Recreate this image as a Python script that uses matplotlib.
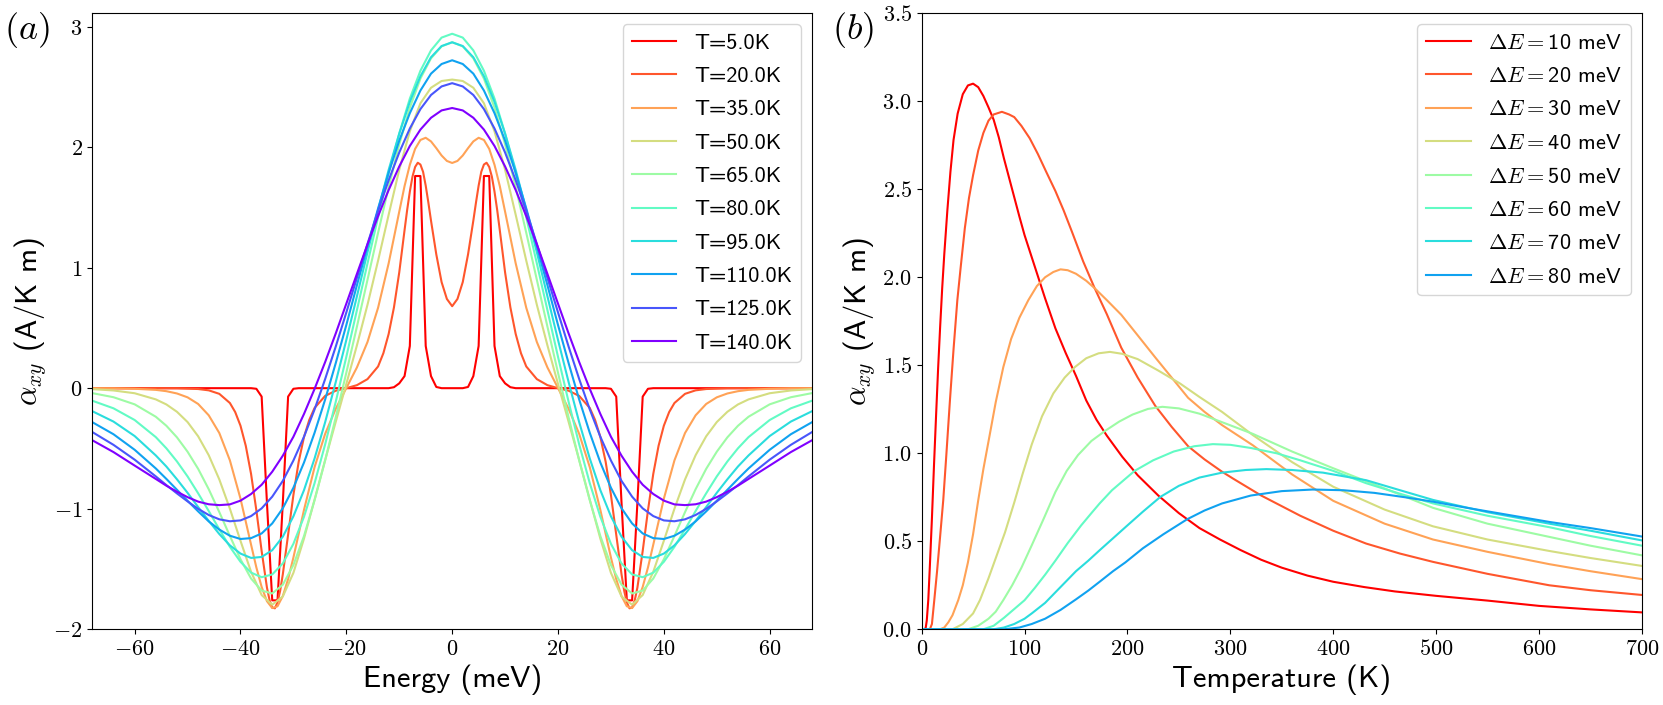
import matplotlib
matplotlib.use("Agg")
import matplotlib.pyplot as plt
import numpy as np

plt.rcParams['mathtext.fontset'] = 'cm'

# ---------------- Panel (a) data: alpha_xy vs energy ----------------
temps_a = [5.0, 20.0, 35.0, 50.0, 65.0, 80.0, 95.0, 110.0, 125.0, 140.0]

E_T5 = [-68, -38, -37, -36, -35, -34, -33, -32, -31, -30, -29, -12, -11, -10, -9, -8, -7, -6, -5, -4, -3, -2,
        2, 3, 4, 5, 6, 7, 8, 9, 10, 11, 12, 29, 30, 31, 32, 33, 34, 35, 36, 37, 38, 68]
a_T5 = [0.0, 0.0, -0.005, -0.07, -0.95, -1.76, -1.76, -0.95, -0.07, -0.005, 0.0, 0.0, 0.008, 0.04, 0.10, 0.35, 1.76, 1.76, 0.35, 0.10, 0.01, 0.0,
        0.0, 0.01, 0.10, 0.35, 1.76, 1.76, 0.35, 0.10, 0.04, 0.008, 0.0, 0.0, -0.005, -0.07, -0.95, -1.76, -1.76, -0.95, -0.07, -0.005, 0.0, 0.0]

E_T20 = [-68, -60, -52, -48, -46, -44, -42, -41, -40, -39, -38, -37, -36, -35, -34.5, -34, -33.5, -33, -32.5, -32, -31, -30, -29, -28, -27, -26,
         -24, -22, -20, -18, -16, -14, -13, -12, -11, -10, -9, -8.5, -8, -7.5, -7, -6.5, -6, -5.5, -5, -4.5, -4, -3, -2, -1,
         0, 1, 2, 3, 4, 4.5, 5, 5.5, 6, 6.5, 7, 7.5, 8, 8.5, 9, 10, 11, 12, 13, 14, 16, 18, 20, 22, 24, 26, 27, 28, 29, 30, 31, 32,
         32.5, 33, 33.5, 34, 34.5, 35, 36, 37, 38, 39, 40, 41, 42, 44, 46, 48, 52, 60, 68]
a_T20 = [0.0, 0.0, -0.001, -0.007, -0.018, -0.047, -0.123, -0.198, -0.311, -0.478, -0.711, -1.013, -1.351, -1.654, -1.759, -1.820, -1.826, -1.776,
         -1.680, -1.544, -1.215, -0.886, -0.610, -0.405, -0.263, -0.164, -0.064, -0.021, 0.0, 0.025, 0.075, 0.18, 0.29, 0.45, 0.67, 0.96, 1.31,
         1.48, 1.63, 1.755, 1.835, 1.87, 1.855, 1.795, 1.68, 1.54, 1.39, 1.11, 0.88, 0.74,
         0.68, 0.74, 0.88, 1.11, 1.39, 1.54, 1.68, 1.795, 1.855, 1.87, 1.835, 1.755, 1.63, 1.48, 1.31, 0.96, 0.67, 0.45, 0.29, 0.18, 0.075, 0.025,
         0.0, -0.021, -0.064, -0.164, -0.263, -0.405, -0.610, -0.886, -1.215, -1.544, -1.680, -1.776, -1.826, -1.820, -1.759, -1.654, -1.351,
         -1.013, -0.711, -0.478, -0.311, -0.198, -0.123, -0.047, -0.018, -0.007, -0.001, 0.0, 0.0]

E_T35 = [-68, -64, -60, -56, -54, -52, -50, -48, -46, -44, -42, -40, -38, -37, -36, -35, -34, -33, -32, -31, -30, -28, -26, -24, -22, -20,
         -18, -16, -14, -12, -10, -9, -8, -7, -6, -5, -4, -3, -2, -1, 0, 1, 2, 3, 4, 5, 6, 7, 8, 9, 10, 12, 14, 16, 18, 20, 22, 24, 26, 28,
         30, 31, 32, 33, 34, 35, 36, 37, 38, 40, 42, 44, 46, 48, 50, 52, 54, 56, 60, 64, 68]
a_T35 = [0.0, -0.001, -0.005, -0.014, -0.025, -0.044, -0.076, -0.131, -0.225, -0.372, -0.599, -0.916, -1.298, -1.487, -1.649, -1.767, -1.824,
         -1.809, -1.724, -1.584, -1.405, -1.010, -0.655, -0.379, -0.171, 0.001, 0.172, 0.383, 0.667, 1.036, 1.464, 1.676, 1.853, 1.985, 2.059,
         2.077, 2.047, 1.991, 1.930, 1.885, 1.868, 1.885, 1.930, 1.991, 2.047, 2.077, 2.059, 1.985, 1.853, 1.676, 1.464, 1.036, 0.667, 0.383,
         0.172, 0.001, -0.171, -0.379, -0.655, -1.010, -1.405, -1.584, -1.724, -1.809, -1.824, -1.767, -1.649, -1.487, -1.298, -0.916, -0.599,
         -0.372, -0.225, -0.131, -0.076, -0.044, -0.025, -0.014, -0.005, -0.001, 0.0]

E_grid = [-68, -64, -60, -56, -54, -52, -50, -48, -46, -44, -42, -40, -38, -36, -34, -32, -30, -28, -26, -24, -22, -20, -18, -16, -14, -12,
          -10, -8, -6, -4, -2, 0, 2, 4, 6, 8, 10, 12, 14, 16, 18, 20, 22, 24, 26, 28, 30, 32, 34, 36, 38, 40, 42, 44, 46, 48, 50, 52, 54, 56,
          60, 64, 68]
a_T50 = [-0.008, -0.019, -0.042, -0.093, -0.135, -0.196, -0.281, -0.399, -0.556, -0.757, -1.000, -1.266, -1.523, -1.716, -1.796, -1.728,
         -1.532, -1.248, -0.925, -0.596, -0.279, 0.035, 0.355, 0.692, 1.058, 1.439, 1.812, 2.131, 2.363, 2.492, 2.548, 2.560, 2.548, 2.492,
         2.363, 2.131, 1.812, 1.439, 1.058, 0.692, 0.355, 0.035, -0.279, -0.596, -0.925, -1.248, -1.532, -1.728, -1.796, -1.716, -1.523,
         -1.266, -1.000, -0.757, -0.556, -0.399, -0.281, -0.196, -0.135, -0.093, -0.042, -0.019, -0.008]
a_T65 = [-0.041, -0.075, -0.134, -0.237, -0.312, -0.408, -0.527, -0.669, -0.838, -1.028, -1.226, -1.419, -1.579, -1.679, -1.703, -1.630,
         -1.467, -1.227, -0.929, -0.599, -0.242, 0.128, 0.510, 0.899, 1.289, 1.669, 2.023, 2.326, 2.568, 2.736, 2.835, 2.870, 2.835, 2.736,
         2.568, 2.326, 2.023, 1.669, 1.289, 0.899, 0.510, 0.128, -0.242, -0.599, -0.929, -1.227, -1.467, -1.630, -1.703, -1.679, -1.579,
         -1.419, -1.226, -1.028, -0.838, -0.669, -0.527, -0.408, -0.312, -0.237, -0.134, -0.075, -0.041]
a_T80 = [-0.104, -0.167, -0.264, -0.406, -0.499, -0.608, -0.732, -0.872, -1.019, -1.171, -1.316, -1.440, -1.530, -1.568, -1.545, -1.454,
         -1.291, -1.067, -0.788, -0.466, -0.113, 0.260, 0.647, 1.035, 1.418, 1.782, 2.113, 2.402, 2.633, 2.802, 2.908, 2.940, 2.908, 2.802,
         2.633, 2.402, 2.113, 1.782, 1.418, 1.035, 0.647, 0.260, -0.113, -0.466, -0.788, -1.067, -1.291, -1.454, -1.545, -1.568, -1.530,
         -1.440, -1.316, -1.171, -1.019, -0.872, -0.732, -0.608, -0.499, -0.406, -0.264, -0.167, -0.104]
a_T95 = [-0.191, -0.277, -0.397, -0.558, -0.650, -0.756, -0.868, -0.986, -1.101, -1.210, -1.304, -1.372, -1.408, -1.400, -1.344, -1.232,
         -1.063, -0.846, -0.583, -0.282, 0.051, 0.400, 0.762, 1.127, 1.478, 1.811, 2.111, 2.375, 2.587, 2.745, 2.838, 2.869, 2.838, 2.745,
         2.587, 2.375, 2.111, 1.811, 1.478, 1.127, 0.762, 0.400, 0.051, -0.282, -0.583, -0.846, -1.063, -1.232, -1.344, -1.400, -1.408,
         -1.372, -1.304, -1.210, -1.101, -0.986, -0.868, -0.756, -0.650, -0.558, -0.397, -0.277, -0.191]
a_T110 = [-0.282, -0.382, -0.511, -0.666, -0.753, -0.843, -0.934, -1.022, -1.105, -1.173, -1.224, -1.251, -1.244, -1.205, -1.122, -0.996,
          -0.826, -0.617, -0.370, -0.094, 0.208, 0.524, 0.854, 1.176, 1.491, 1.787, 2.053, 2.281, 2.469, 2.609, 2.689, 2.720, 2.689, 2.609,
          2.469, 2.281, 2.053, 1.787, 1.491, 1.176, 0.854, 0.524, 0.208, -0.094, -0.370, -0.617, -0.826, -0.996, -1.122, -1.205, -1.244,
          -1.251, -1.224, -1.173, -1.105, -1.022, -0.934, -0.843, -0.753, -0.666, -0.511, -0.382, -0.282]
a_T125 = [-0.364, -0.470, -0.593, -0.732, -0.804, -0.873, -0.939, -1.001, -1.052, -1.088, -1.104, -1.097, -1.061, -0.997, -0.900, -0.769,
          -0.600, -0.403, -0.176, 0.076, 0.345, 0.628, 0.915, 1.197, 1.472, 1.725, 1.955, 2.154, 2.315, 2.432, 2.503, 2.530, 2.503, 2.432,
          2.315, 2.154, 1.955, 1.725, 1.472, 1.197, 0.915, 0.628, 0.345, 0.076, -0.176, -0.403, -0.600, -0.769, -0.900, -0.997, -1.061,
          -1.097, -1.104, -1.088, -1.052, -1.001, -0.939, -0.873, -0.804, -0.732, -0.593, -0.470, -0.364]
a_T140 = [-0.432, -0.530, -0.642, -0.753, -0.809, -0.859, -0.904, -0.941, -0.963, -0.970, -0.964, -0.933, -0.878, -0.801, -0.693, -0.560,
          -0.403, -0.214, -0.006, 0.217, 0.454, 0.701, 0.948, 1.193, 1.427, 1.644, 1.839, 2.009, 2.145, 2.243, 2.304, 2.324, 2.304, 2.243,
          2.145, 2.009, 1.839, 1.644, 1.427, 1.193, 0.948, 0.701, 0.454, 0.217, -0.006, -0.214, -0.403, -0.560, -0.693, -0.801, -0.878,
          -0.933, -0.964, -0.970, -0.963, -0.941, -0.904, -0.859, -0.809, -0.753, -0.642, -0.530, -0.432]

# ---------------- Panel (b) data: alpha_xy vs temperature ----------------
dE_values = [10, 20, 30, 40, 50, 60, 70, 80]

T_d10 = [0, 3, 4, 5, 6.5, 8, 10, 12, 14, 16, 18, 20, 22, 25, 28, 31, 35, 40, 45, 50, 55, 60, 65, 70, 75, 80, 85, 90, 95, 100, 105, 110,
         115, 120, 130, 140, 150, 160, 170, 180, 195, 210, 230, 250, 270, 290, 310, 330, 350, 375, 400, 430, 460, 500, 550, 600, 650, 700]
a_d10 = [0.0, 0.0, 0.01, 0.05, 0.17, 0.36, 0.63, 0.93, 1.21, 1.48, 1.72, 1.94, 2.13, 2.38, 2.60, 2.78, 2.93, 3.04, 3.09, 3.10, 3.08, 3.03,
         2.965, 2.895, 2.795, 2.675, 2.565, 2.455, 2.345, 2.24, 2.15, 2.06, 1.97, 1.88, 1.71, 1.57, 1.44, 1.30, 1.19, 1.10, 0.98, 0.875,
         0.76, 0.66, 0.575, 0.51, 0.45, 0.395, 0.35, 0.305, 0.27, 0.24, 0.215, 0.19, 0.163, 0.133, 0.113, 0.096]

T_d20 = [0, 8, 10, 12.3, 15, 18, 21, 24, 27.5, 31, 34.7, 38, 42, 46, 50, 55, 60, 65, 70, 78, 85, 90, 97, 105, 113, 121, 130, 138, 146,
         157, 168, 180, 194, 210, 227, 243, 259, 275, 292, 303, 330, 368, 400, 432, 465, 497, 550, 610, 650, 700]
a_d20 = [0.0, 0.0, 0.03, 0.166, 0.33, 0.53, 0.733, 0.99, 1.30, 1.59, 1.87, 2.06, 2.28, 2.45, 2.58, 2.72, 2.82, 2.89, 2.925, 2.94, 2.925,
         2.91, 2.86, 2.79, 2.70, 2.60, 2.49, 2.38, 2.26, 2.09, 1.94, 1.79, 1.60, 1.43, 1.27, 1.15, 1.04, 0.965, 0.895, 0.855, 0.76, 0.645,
         0.56, 0.487, 0.43, 0.383, 0.315, 0.25, 0.222, 0.195]

T_d30 = [0, 18, 22, 26, 30, 35.6, 40, 45, 50, 55, 60, 66.4, 72, 79.4, 87, 95, 103.7, 112, 120, 128, 135, 142, 150, 160, 168.5, 180, 194,
         210, 227, 243, 259, 275, 292, 322, 360, 400, 450, 497, 550, 610, 650, 700]
a_d30 = [0.0, 0.0, 0.01, 0.04, 0.08, 0.166, 0.25, 0.38, 0.54, 0.733, 0.91, 1.112, 1.29, 1.49, 1.65, 1.77, 1.87, 1.95, 2.00, 2.03, 2.045,
         2.04, 2.02, 1.98, 1.936, 1.87, 1.787, 1.67, 1.545, 1.43, 1.315, 1.235, 1.16, 1.045, 0.88, 0.73, 0.60, 0.51, 0.44, 0.37, 0.33, 0.285]

T_d40 = [0, 30, 40, 50, 56.7, 65, 73, 81, 90, 98, 107, 117, 128, 139, 149, 160, 172, 183, 195, 210, 230, 251, 270, 292, 322, 360, 400,
         450, 497, 550, 610, 650, 700]
a_d40 = [0.0, 0.0, 0.03, 0.09, 0.166, 0.29, 0.42, 0.55, 0.72, 0.88, 1.05, 1.21, 1.34, 1.43, 1.49, 1.54, 1.568, 1.576, 1.565, 1.535, 1.47,
         1.397, 1.32, 1.235, 1.103, 0.95, 0.81, 0.68, 0.585, 0.51, 0.445, 0.405, 0.36]

T_d50 = [0, 45, 55, 65, 72, 79.4, 88, 97, 107, 118, 130, 141, 152, 165, 178, 192, 205, 220, 234, 250, 270, 295, 322, 360, 400, 450, 497,
         550, 610, 650, 700]
a_d50 = [0.0, 0.0, 0.02, 0.06, 0.10, 0.166, 0.25, 0.35, 0.477, 0.62, 0.78, 0.90, 0.99, 1.07, 1.126, 1.18, 1.22, 1.252, 1.264, 1.255,
         1.225, 1.17, 1.11, 1.01, 0.915, 0.80, 0.69, 0.60, 0.525, 0.475, 0.42]

T_d60 = [0, 60, 70, 80, 90, 100, 110, 120, 130, 142, 155, 165, 173, 185, 196, 207, 225, 245, 265, 283, 300, 320, 345, 368, 400, 432, 465,
         497, 550, 610, 650, 700]
a_d60 = [0.0, 0.0, 0.02, 0.065, 0.115, 0.165, 0.235, 0.31, 0.39, 0.49, 0.59, 0.66, 0.715, 0.79, 0.845, 0.90, 0.96, 1.01, 1.04, 1.052,
         1.048, 1.03, 1.0, 0.96, 0.90, 0.83, 0.77, 0.715, 0.645, 0.58, 0.53, 0.475]

T_d70 = [0, 70, 80, 90, 100, 107, 120, 135, 150, 162, 173, 186, 199, 215, 232, 250, 270, 292, 315, 335, 360, 390, 432, 465, 497, 550,
         610, 650, 700]
a_d70 = [0.0, 0.0, 0.01, 0.03, 0.06, 0.09, 0.15, 0.24, 0.33, 0.39, 0.449, 0.517, 0.585, 0.668, 0.752, 0.815, 0.862, 0.89, 0.905, 0.91,
         0.905, 0.89, 0.847, 0.79, 0.735, 0.665, 0.60, 0.56, 0.505]

T_d80 = [0, 80, 95, 107, 120, 135, 150, 162, 173, 186, 198, 215, 235, 258, 275, 292, 320, 350, 380, 410, 440, 470, 497, 530, 570, 610,
         650, 700]
a_d80 = [0.0, 0.0, 0.01, 0.03, 0.06, 0.11, 0.17, 0.22, 0.27, 0.33, 0.38, 0.46, 0.54, 0.625, 0.675, 0.715, 0.76, 0.785, 0.794, 0.79,
         0.775, 0.75, 0.725, 0.69, 0.65, 0.61, 0.575, 0.527]

# ---------------- ticks ----------------
xticks_a = [-60, -40, -20, 0, 20, 40, 60]
xticklabels_a = [r'$-60$', r'$-40$', r'$-20$', r'$0$', r'$20$', r'$40$', r'$60$']
yticks_a = [-2, -1, 0, 1, 2, 3]
yticklabels_a = [r'$-2$', r'$-1$', r'$0$', r'$1$', r'$2$', r'$3$']
xticks_b = [0, 100, 200, 300, 400, 500, 600, 700]
xticklabels_b = [r'$0$', r'$100$', r'$200$', r'$300$', r'$400$', r'$500$', r'$600$', r'$700$']
yticks_b = [0.0, 0.5, 1.0, 1.5, 2.0, 2.5, 3.0, 3.5]
yticklabels_b = [r'$0.0$', r'$0.5$', r'$1.0$', r'$1.5$', r'$2.0$', r'$2.5$', r'$3.0$', r'$3.5$']

# ---------------- figure ----------------
colors = plt.cm.rainbow(np.linspace(1, 0, 10))
SANS = 'cmss10'
LEG = dict(loc='upper right', prop={'family': SANS, 'size': 16}, labelspacing=0.62)

fig = plt.figure(figsize=(16.63, 7.05), dpi=100)
axa = fig.add_axes([0.0555, 0.1074, 0.4328, 0.8738])
axb = fig.add_axes([0.5542, 0.1074, 0.4331, 0.8738])

curves_a = [(E_T5, a_T5), (E_T20, a_T20), (E_T35, a_T35), (E_grid, a_T50), (E_grid, a_T65),
            (E_grid, a_T80), (E_grid, a_T95), (E_grid, a_T110), (E_grid, a_T125), (E_grid, a_T140)]
for i, ((ex, ay), T) in enumerate(zip(curves_a, temps_a)):
    axa.plot(ex, ay, color=colors[i], lw=1.5, label=f'T={T:.1f}K')

axa.set_xlim(-68, 68)
axa.set_ylim(-2, 3.11)
axa.set_xticks(xticks_a)
axa.set_xticklabels(xticklabels_a)
axa.set_yticks(yticks_a)
axa.set_yticklabels(yticklabels_a)
axa.tick_params(labelsize=16)
axa.set_xlabel('Energy (meV)', fontsize=22, family=SANS)
axa.set_ylabel(r'$\alpha_{xy}$ (A/K m)', fontsize=22, family=SANS)
axa.legend(**LEG)

curves_b = [(T_d10, a_d10), (T_d20, a_d20), (T_d30, a_d30), (T_d40, a_d40),
            (T_d50, a_d50), (T_d60, a_d60), (T_d70, a_d70), (T_d80, a_d80)]
for i, ((tx, ay), dE) in enumerate(zip(curves_b, dE_values)):
    axb.plot(tx, ay, color=colors[i], lw=1.5, label=r'$\Delta E = {}$' + f'{dE} meV')

axb.set_xlim(0, 700)
axb.set_ylim(0, 3.5)
axb.set_xticks(xticks_b)
axb.set_xticklabels(xticklabels_b)
axb.set_yticks(yticks_b)
axb.set_yticklabels(yticklabels_b)
axb.tick_params(labelsize=16)
axb.set_xlabel('Temperature (K)', fontsize=22, family=SANS)
axb.set_ylabel(r'$\alpha_{xy}$ (A/K m)', fontsize=22, family=SANS)
axb.legend(**LEG)

fig.text(0.016, 0.958, r'$(a)$', fontsize=26, ha='center', va='center')
fig.text(0.513, 0.958, r'$(b)$', fontsize=26, ha='center', va='center')

fig.savefig('out.png', dpi=100)
